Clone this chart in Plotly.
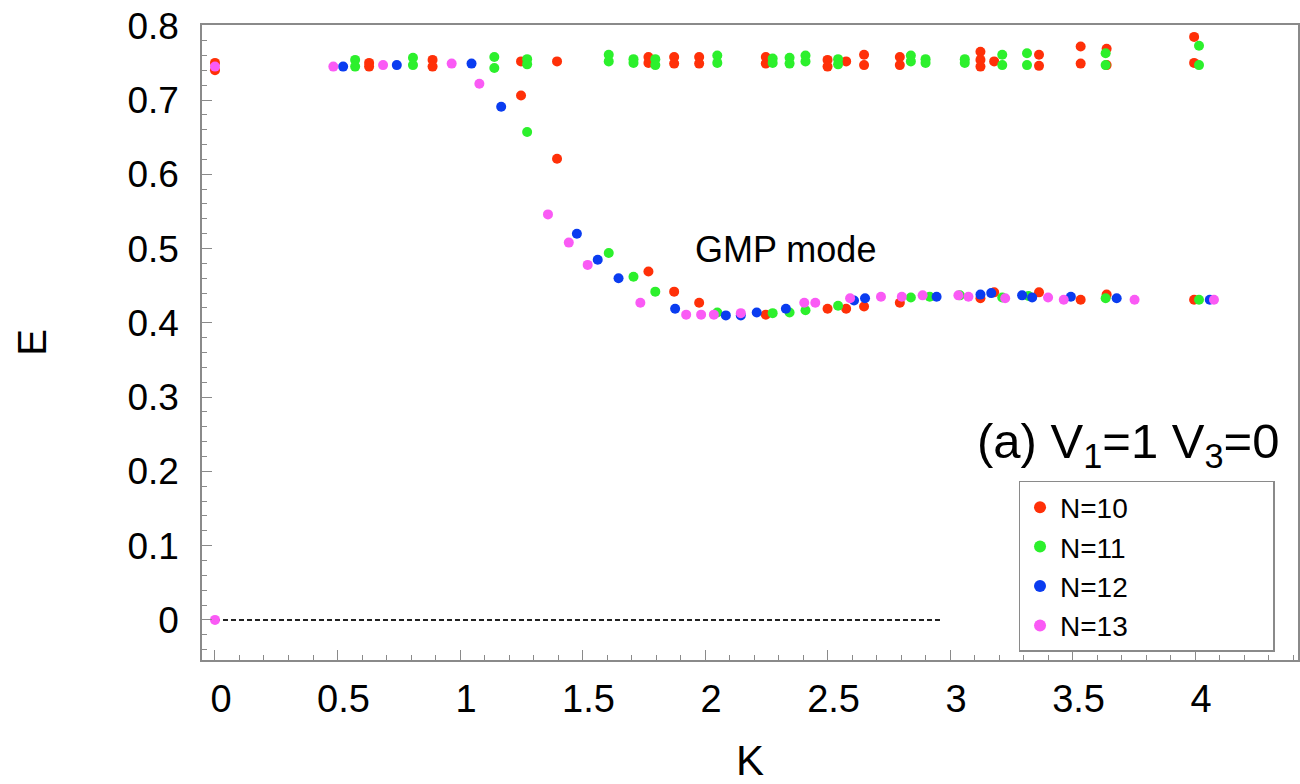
import plotly.graph_objects as go

# ---------------- data ----------------
k_n10 = [0.0, 0.0, 0.629, 0.629, 0.888, 0.888, 1.249, 1.249, 1.396, 1.396,
         1.769, 1.769, 1.769, 1.874, 1.874, 1.874, 1.976, 1.976, 1.976,
         2.248, 2.248, 2.248, 2.50, 2.50, 2.50, 2.576, 2.576,
         2.649, 2.649, 2.649, 2.795, 2.795, 2.795,
         3.124, 3.124, 3.124, 3.124, 3.18, 3.18, 3.363, 3.363, 3.363,
         3.533, 3.533, 3.533, 3.639, 3.639, 3.639, 3.996, 3.996, 3.996]
e_n10 = [0.750, 0.740, 0.750, 0.745, 0.754, 0.745, 0.752, 0.706, 0.752, 0.621,
         0.758, 0.750, 0.469, 0.758, 0.749, 0.442, 0.758, 0.749, 0.427,
         0.758, 0.749, 0.411, 0.754, 0.745, 0.419, 0.752, 0.419,
         0.761, 0.747, 0.422, 0.758, 0.747, 0.427,
         0.765, 0.754, 0.745, 0.433, 0.752, 0.441, 0.761, 0.746, 0.441,
         0.772, 0.749, 0.431, 0.769, 0.747, 0.438, 0.785, 0.750, 0.431]

k_n11 = [0.572, 0.572, 0.808, 0.808, 1.140, 1.140, 1.274, 1.274, 1.274,
         1.607, 1.607, 1.607, 1.708, 1.708, 1.708, 1.797, 1.797, 1.797,
         2.05, 2.05, 2.05, 2.276, 2.276, 2.276, 2.345, 2.345, 2.345,
         2.41, 2.41, 2.41, 2.543, 2.543, 2.543, 2.84, 2.84, 2.84,
         2.90, 2.90, 2.917, 3.06, 3.06, 3.04, 3.213, 3.213, 3.213,
         3.314, 3.314, 3.32, 3.635, 3.635, 3.635, 4.016, 4.016, 4.016]
e_n11 = [0.754, 0.745, 0.757, 0.747, 0.758, 0.743, 0.755, 0.748, 0.657,
         0.761, 0.752, 0.494, 0.755, 0.750, 0.462, 0.755, 0.747, 0.442,
         0.760, 0.750, 0.414, 0.756, 0.750, 0.413, 0.757, 0.749, 0.414,
         0.760, 0.752, 0.417, 0.755, 0.748, 0.423, 0.760, 0.752, 0.434,
         0.755, 0.750, 0.435, 0.755, 0.750, 0.437, 0.761, 0.747, 0.434,
         0.763, 0.747, 0.436, 0.763, 0.747, 0.433, 0.773, 0.747, 0.431]

k_n12 = [0.523, 0.742, 1.047, 1.168, 1.477, 1.562, 1.647, 1.878, 2.085,
         2.146, 2.211, 2.33, 2.608, 2.653, 2.945, 3.124, 3.168, 3.294,
         3.335, 3.493, 3.68, 4.06]
e_n12 = [0.745, 0.747, 0.749, 0.691, 0.520, 0.485, 0.460, 0.419, 0.410,
         0.410, 0.414, 0.419, 0.430, 0.433, 0.435, 0.438, 0.440, 0.437,
         0.434, 0.435, 0.433, 0.431]

k_n13 = [0.0, 0.0, 0.483, 0.686, 0.966, 1.079, 1.359, 1.444, 1.521, 1.736,
         1.923, 1.984, 2.036, 2.146, 2.405, 2.45, 2.592, 2.718, 2.803,
         2.888, 3.034, 3.075, 3.225, 3.40, 3.464, 3.753, 4.077]
e_n13 = [0.745, 0.0, 0.745, 0.747, 0.749, 0.722, 0.546, 0.508, 0.478, 0.427,
         0.411, 0.411, 0.411, 0.413, 0.427, 0.427, 0.433, 0.435, 0.435,
         0.437, 0.437, 0.435, 0.433, 0.434, 0.431, 0.431, 0.431]

series_names = ["N=10", "N=11", "N=12", "N=13"]
series_colors = ["#ff3008", "#2cf02c", "#0a3cf0", "#fa5af5"]

zero_line_k = [0.0, 2.97]
zero_line_e = [0.0, 0.0]

x_ticks = [0, 0.5, 1, 1.5, 2, 2.5, 3, 3.5, 4]
x_tick_text = ["0", "0.5", "1", "1.5", "2", "2.5", "3", "3.5", "4"]
y_ticks = [0, 0.1, 0.2, 0.3, 0.4, 0.5, 0.6, 0.7, 0.8]
y_tick_text = ["0", "0.1", "0.2", "0.3", "0.4", "0.5", "0.6", "0.7", "0.8"]

FONT = "Liberation Sans, Arial, Helvetica, sans-serif"
AXIS_GRAY = "#8a8a8a"
LEGEND_PAD = "&nbsp;" * 18  # widens the key box like the reference

fig = go.Figure()

fig.add_trace(go.Scatter(
    x=zero_line_k, y=zero_line_e, mode="lines",
    line=dict(color="#222222", width=2, dash="5px,3px"),
    showlegend=False, hoverinfo="skip"))

for ks, es, name, col in zip([k_n10, k_n11, k_n12, k_n13],
                             [e_n10, e_n11, e_n12, e_n13],
                             series_names, series_colors):
    fig.add_trace(go.Scatter(
        x=ks, y=es, mode="markers", name=name + LEGEND_PAD,
        marker=dict(color=col, size=10, line=dict(width=0))))

fig.update_layout(
    width=1300, height=784,
    margin=dict(l=202, r=0, t=25, b=124),
    paper_bgcolor="white", plot_bgcolor="white",
    font=dict(family=FONT, color="black"),
    showlegend=True,
    legend=dict(
        x=0.745, y=0.2819, xanchor="left", yanchor="top",
        bgcolor="white", bordercolor=AXIS_GRAY, borderwidth=1.5,
        font=dict(family=FONT, size=28, color="black"),
        itemsizing="constant", tracegroupgap=0),
    xaxis=dict(
        range=[-0.053, 4.42], showgrid=False, zeroline=False,
        showline=True, linecolor=AXIS_GRAY, linewidth=1.5, mirror=True,
        tickmode="array", tickvals=x_ticks, ticktext=x_tick_text,
        ticks="inside", ticklen=10, tickcolor=AXIS_GRAY, tickwidth=1,
        tickfont=dict(family=FONT, size=38),
        ticklabelstandoff=5, ticklabelshift=6,
        minor=dict(dtick=0.1, tick0=0, ticks="inside", ticklen=5,
                   tickcolor=AXIS_GRAY, showgrid=False),
        title=dict(text="K", font=dict(family=FONT, size=42), standoff=28)),
    yaxis=dict(
        range=[-0.054, 0.801], showgrid=False, zeroline=False,
        showline=True, linecolor=AXIS_GRAY, linewidth=1.5, mirror=True,
        tickmode="array", tickvals=y_ticks, ticktext=y_tick_text,
        ticks="inside", ticklen=10, tickcolor=AXIS_GRAY, tickwidth=1,
        tickfont=dict(family=FONT, size=37),
        ticklabelstandoff=14,
        minor=dict(dtick=0.02, tick0=0, ticks="inside", ticklen=5,
                   tickcolor=AXIS_GRAY, showgrid=False),
        title=dict(text="E", font=dict(family=FONT, size=40), standoff=68)),
    annotations=[
        dict(text="(a) V<sub>1</sub>=1 V<sub>3</sub>=0", xref="paper", yref="paper",
             x=0.9845, y=0.3386, xanchor="right", yanchor="middle",
             showarrow=False, font=dict(family=FONT, size=49, color="black")),
        dict(text="GMP mode", xref="paper", yref="paper",
             x=0.532, y=0.6457, xanchor="center", yanchor="middle",
             showarrow=False, font=dict(family=FONT, size=36, color="black")),
    ],
)

fig.write_html("out.html")
